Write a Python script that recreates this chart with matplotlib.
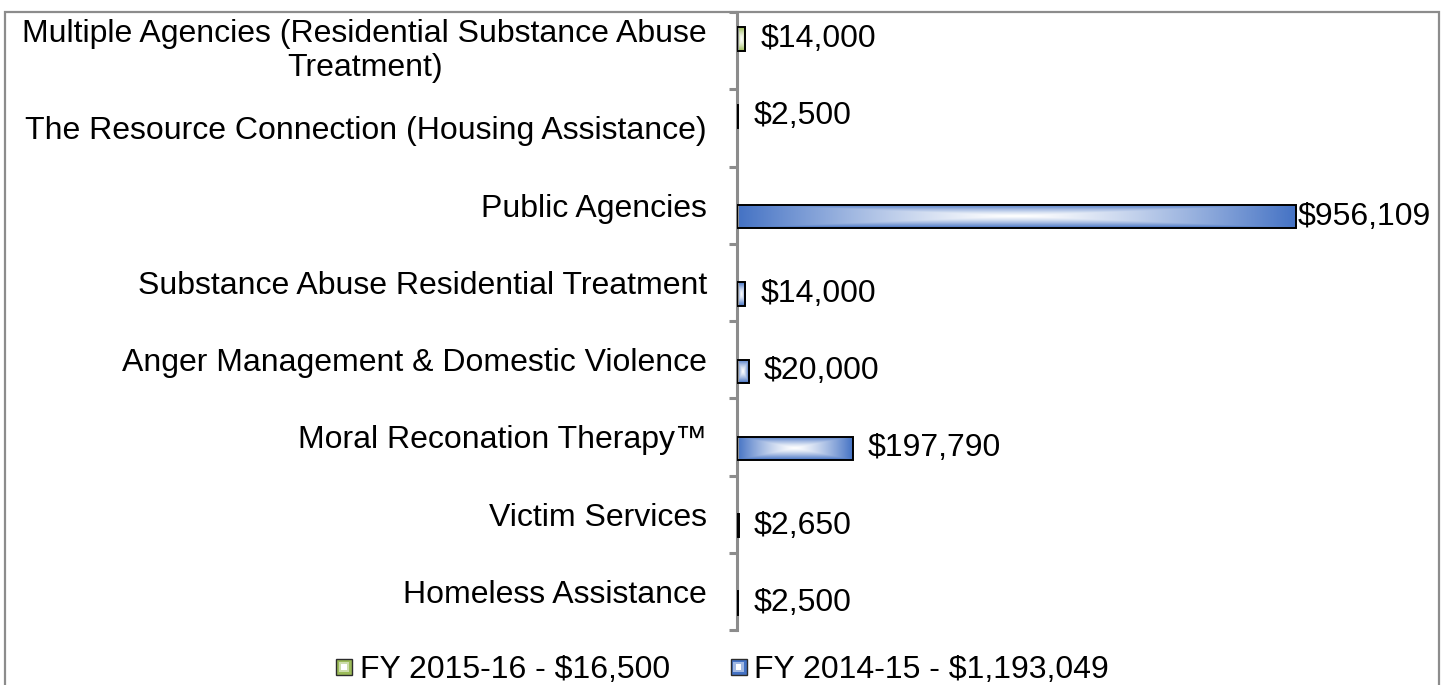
import numpy as np
import matplotlib
matplotlib.use("Agg")
import matplotlib.pyplot as plt
from matplotlib.patches import Rectangle, Patch
from matplotlib.colors import to_rgb
from matplotlib.legend_handler import HandlerBase

plt.rcParams["font.family"] = ["Liberation Sans", "DejaVu Sans"]

categories = [
    "Multiple Agencies (Residential Substance Abuse\nTreatment)",
    "The Resource Connection (Housing Assistance)",
    "Public Agencies",
    "Substance Abuse Residential Treatment",
    "Anger Management & Domestic Violence",
    "Moral Reconation Therapy\u2122",
    "Victim Services",
    "Homeless Assistance",
]
fy1516 = [14000, 2500, None, None, None, None, None, None]
fy1415 = [None, None, 956109, 14000, 20000, 197790, 2650, 2500]
series_labels = ["FY 2015-16 - $16,500", "FY 2014-15 - $1,193,049"]
series_colors = ["#9BBB59", "#4472C4"]

W, H = 1445, 685
fig = plt.figure(figsize=(W / 100, H / 100), dpi=100)
ax = fig.add_axes([737 / W, 1 - 630 / H, (1439 - 737) / W, (630 - 12) / H])

n = len(categories)
xmax = 1_200_000
ax.set_xlim(0, xmax)
ax.set_ylim(n - 0.5, -0.5)


def grad_img(color, nx=240, ny=40):
    u = np.linspace(-1, 1, nx)
    v = np.linspace(-1, 1, ny)
    U, V = np.meshgrid(u, v)
    t = np.clip(np.maximum(np.abs(U), np.abs(V)), 0, 1) ** 1.3
    c = np.array(to_rgb(color))
    return np.ones(3) * (1 - t[..., None]) + c * t[..., None]


bar_h = 0.30
offsets = [-0.15, 0.15]
for s, (vals, col) in enumerate(zip([fy1516, fy1415], series_colors)):
    img = grad_img(col)
    for i, v in enumerate(vals):
        if v is None:
            continue
        y = i + offsets[s]
        patch = ax.barh(y, v, height=bar_h, facecolor="none",
                        edgecolor="black", linewidth=1.4, zorder=3)[0]
        im = ax.imshow(img, extent=[0, v, y + bar_h / 2, y - bar_h / 2],
                       aspect="auto", zorder=2, interpolation="bilinear")
        im.set_clip_path(patch)
        off = 1 if v > 0.7 * xmax else 11
        ax.annotate(f"${v:,}", xy=(v, y), xytext=(off, 0),
                    textcoords="offset points", va="center", ha="left",
                    fontsize=23, zorder=4)

ax.set_xlim(0, xmax)
ax.set_ylim(n - 0.5, -0.5)

ax.set_yticks(range(n))
ax.set_yticklabels(categories, fontsize=23)
for t in ax.get_yticklabels():
    t.set_multialignment("center")
    if "\n" in t.get_text():
        t.set_verticalalignment("center")
        t.set_linespacing(1.17)
ax.set_yticks(np.arange(-0.5, n, 1), minor=True)
ax.tick_params(axis="y", which="major", length=0, pad=21.6)
ax.tick_params(axis="y", which="minor", length=5.8, width=2.2,
               color="#8c8c8c", direction="out")
ax.set_xticks([])
for sp in ["top", "right", "bottom"]:
    ax.spines[sp].set_visible(False)
ax.spines["left"].set_color("#8c8c8c")
ax.spines["left"].set_linewidth(2.2)
ax.patch.set_alpha(0)

fig.add_artist(Rectangle((5 / W, -0.1), (1439 - 5) / W, (1 - 12 / H) + 0.1,
                         transform=fig.transFigure, fill=False,
                         edgecolor="#8c8c8c", linewidth=1.6, clip_on=False))


class GradSquare(HandlerBase):
    def create_artists(self, legend, orig_handle, xdescent, ydescent,
                       width, height, fontsize, trans):
        col = orig_handle.get_facecolor()
        s = min(width, height)
        x0 = -xdescent + (width - s) / 2
        y0 = -ydescent + (height - s) / 2
        outer = Rectangle((x0, y0), s, s, facecolor=col,
                          edgecolor="#2b2b2b", linewidth=1.0, transform=trans)
        c = np.array(to_rgb(col))
        mid = Rectangle((x0 + s * 0.18, y0 + s * 0.18), s * 0.64, s * 0.64,
                        facecolor=0.5 * c + 0.5, edgecolor="none",
                        transform=trans)
        inner = Rectangle((x0 + s * 0.32, y0 + s * 0.32), s * 0.36, s * 0.36,
                          facecolor="white", edgecolor="none", transform=trans)
        return [outer, mid, inner]


handles = [Patch(facecolor=c) for c in series_colors]
fig.legend(handles, series_labels, loc="center",
           bbox_to_anchor=(0.5, 1 - 670 / H), ncol=2, frameon=False,
           fontsize=23, handlelength=0.5, handleheight=0.5,
           handletextpad=0.25, columnspacing=1.9,
           handler_map={Patch: GradSquare()})

fig.savefig("out.png", dpi=100)
